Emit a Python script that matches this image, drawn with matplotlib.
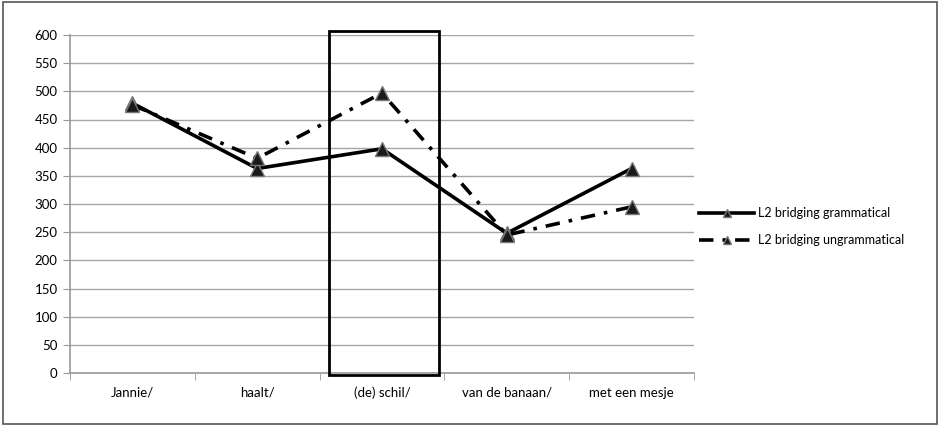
import matplotlib.pyplot as plt
import matplotlib.patches as mpatches

plt.rcParams['font.family'] = ['Lato', 'DejaVu Sans']

categories = ['Jannie/', 'haalt/', '(de) schil/', 'van de banaan/', 'met een mesje']
grammatical = [479, 363, 398, 248, 363]
ungrammatical = [476, 381, 497, 245, 295]
y_ticks = list(range(0, 601, 50))

fig = plt.figure(figsize=(9.4, 4.25), dpi=100)
ax = fig.add_axes([70 / 940, 52 / 425, 624 / 940, 338 / 425])

x = list(range(len(categories)))
ax.plot(x, grammatical, color='black', lw=2.6, marker='^', ms=10,
        markerfacecolor='#1a1a1a', markeredgecolor='#777777', markeredgewidth=1,
        label='L2 bridging grammatical')
ax.plot(x, ungrammatical, color='black', lw=2.6, dashes=(4, 2.5, 1, 2.5),
        marker='^', ms=10, markerfacecolor='#1a1a1a', markeredgecolor='#777777',
        markeredgewidth=1, label='L2 bridging ungrammatical')

ax.set_xlim(-0.5, len(categories) - 0.5)
ax.set_ylim(0, 600)
ax.set_yticks(y_ticks)
ax.yaxis.grid(True, color='#a6a6a6', lw=1)
ax.set_axisbelow(True)

ax.set_xticks(x)
ax.set_xticklabels(categories)
ax.set_xticks([i - 0.5 for i in range(len(categories) + 1)], minor=True)
ax.tick_params(axis='x', which='major', length=0, pad=10, labelsize=9.5)
ax.tick_params(axis='x', which='minor', length=5, color='#999999', direction='out')
ax.tick_params(axis='y', length=5, color='#999999', labelsize=9.5, pad=4)

for side in ['top', 'right']:
    ax.spines[side].set_visible(False)
for side in ['left', 'bottom']:
    ax.spines[side].set_color('#999999')
    ax.spines[side].set_linewidth(1.2)

# highlight box around the critical region
box = mpatches.Rectangle((1.576, -3.5), 0.88, 610.5, fill=False,
                         edgecolor='black', lw=2, clip_on=False, zorder=5)
ax.add_patch(box)

fig.legend(loc='center left', bbox_to_anchor=(688 / 940, 0.467),
           frameon=False, fontsize=9, handlelength=4.4, labelspacing=1.2,
           handletextpad=0.3, numpoints=1, markerscale=0.6)

fig.patches.append(mpatches.Rectangle((0.003, 0.003), 0.994, 0.992,
                                      transform=fig.transFigure, fill=False,
                                      edgecolor='#555555', lw=1.2))

fig.savefig('out.png', dpi=100)
